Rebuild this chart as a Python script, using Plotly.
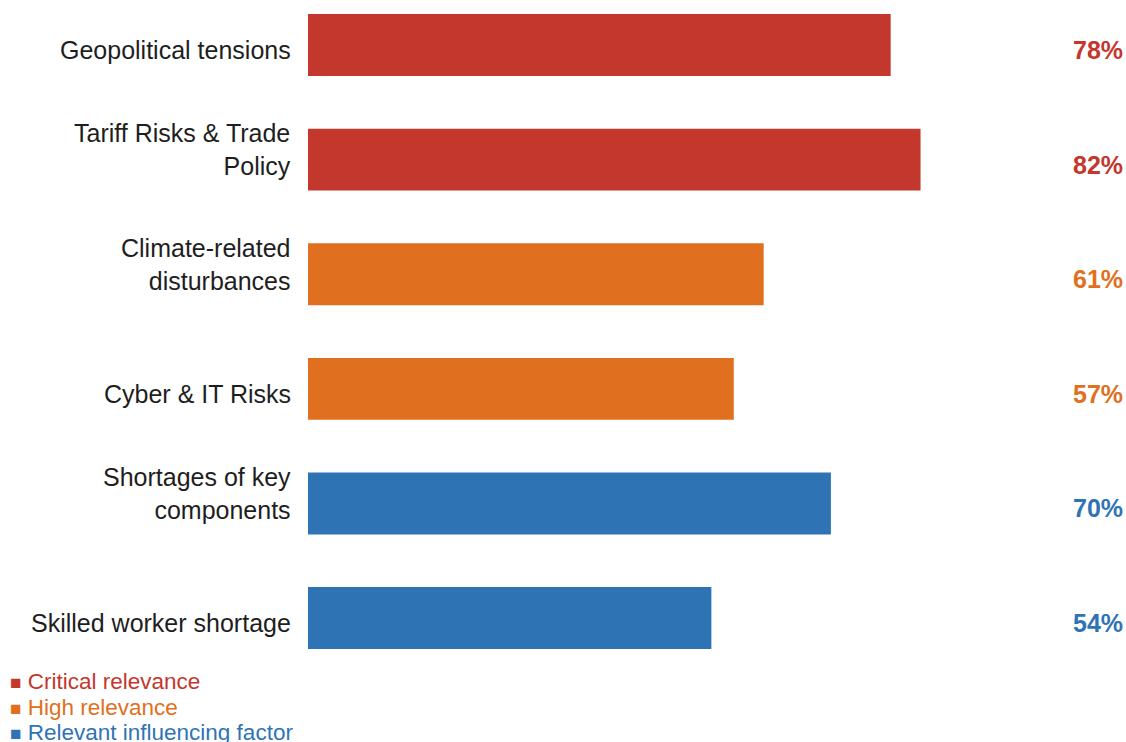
import plotly.graph_objects as go

categories = ["Geopolitical tensions", "Tariff Risks & Trade<br>Policy", "Climate-related<br>disturbances",
              "Cyber & IT Risks", "Shortages of key<br>components", "Skilled worker shortage"]
values = [78, 82, 61, 57, 70, 54]
tiers = ["Critical relevance", "Critical relevance", "High relevance", "High relevance",
         "Relevant influencing factor", "Relevant influencing factor"]
tier_names = ["Critical relevance", "High relevance", "Relevant influencing factor"]
tier_colors = {"Critical relevance": "#C4372D", "High relevance": "#E07020", "Relevant influencing factor": "#2E74B5"}

W, H = 1126, 742
L, R, T, B = 308, 71, 0, 82
plot_w = W - L - R
plot_h = H - T - B

fig = go.Figure()
fig.add_trace(go.Bar(
    y=categories, x=values, orientation="h",
    marker=dict(color=[tier_colors[t] for t in tiers], line=dict(width=0)),
    width=0.54, showlegend=False, hoverinfo="x+y",
))

annotations = []
# category labels (placed on the y scale)
for c in categories:
    multi = "<br>" in c
    annotations.append(dict(
        x=(293 - L) / plot_w, xref="paper", y=c, yref="y",
        text=c, showarrow=False, xanchor="right", yanchor="middle", align="right",
        yshift=10 if multi else -5,
        font=dict(family="Liberation Sans, Arial", size=25, color="#1E1E1E"),
    ))
# value labels
for c, v, t in zip(categories, values, tiers):
    annotations.append(dict(
        x=(1125 - L) / plot_w, xref="paper", y=c, yref="y",
        text=f"<b>{v}%</b>", showarrow=False, xanchor="right", yanchor="middle",
        yshift=-5,
        font=dict(family="Liberation Sans, Arial", size=25, color=tier_colors[t]),
    ))

legend_y_px = [681, 707, 732]
for name, ypx in zip(tier_names, legend_y_px):
    annotations.append(dict(
        x=(8 - L) / plot_w, xref="paper", y=1 - (ypx - T) / plot_h, yref="paper",
        text=f"<span style='font-size:19px'>■</span> {name}", showarrow=False,
        xanchor="left", yanchor="middle",
        font=dict(family="Liberation Sans, Arial", size=22.5, color=tier_colors[name]),
    ))

fig.update_layout(
    width=W, height=H,
    margin=dict(l=L, r=R, t=T, b=B, pad=0),
    paper_bgcolor="white", plot_bgcolor="white",
    annotations=annotations,
    bargap=0.46,
)
fig.update_xaxes(range=[0, 100], visible=False, showgrid=False, zeroline=False)
fig.update_yaxes(
    type="category", range=[5.366, -0.393], showgrid=False, zeroline=False, showline=False,
    ticks="", showticklabels=False,
)

fig.write_html("out.html", config={"displayModeBar": False},
               post_script="document.body.style.margin='0';document.body.style.overflow='hidden';")
